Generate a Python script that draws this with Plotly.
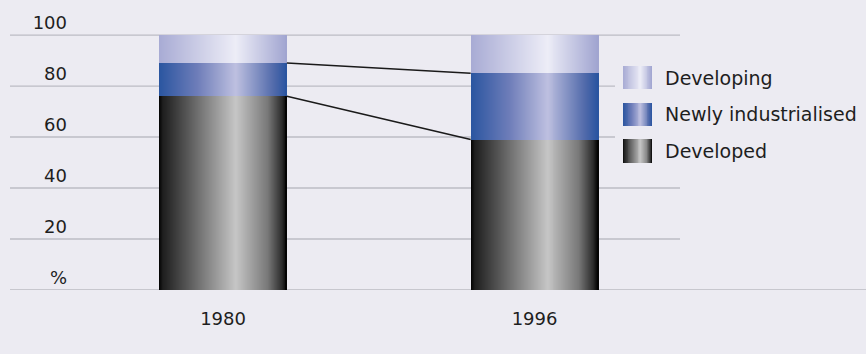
import plotly.graph_objects as go

# ---- data -------------------------------------------------------------
years = ["1980", "1996"]
developed = [76, 59]
newly_industrialised = [13, 26]
developing = [11, 15]
series_names = ["Developing", "Newly industrialised", "Developed"]
y_ticks = [0, 20, 40, 60, 80, 100]
y_tick_text = ["%", "20", "40", "60", "80", "100"]

# ---- styling ----------------------------------------------------------
BG = "#ECEBF2"
GRID = "#BCBCC4"
FONT = "DejaVu Sans"
BAR_W = 0.41
N_SLICES = 128

# horizontal "cylinder" shading stops per series: (position, rgb)
shades = {
    "Developed": [(0.0, (2, 2, 2)), (0.03, (30, 30, 30)), (0.3, (110, 110, 110)),
                  (0.6, (198, 198, 198)), (0.85, (120, 120, 120)),
                  (0.96, (45, 45, 45)), (1.0, (0, 0, 0))],
    "Newly industrialised": [(0.0, (42, 85, 160)), (0.3, (110, 125, 185)),
                             (0.6, (190, 192, 224)), (0.9, (80, 105, 170)),
                             (1.0, (40, 84, 160))],
    "Developing": [(0.0, (168, 171, 212)), (0.6, (237, 237, 247)),
                   (1.0, (160, 164, 208))],
}


def shade(stops, t):
    for (p0, c0), (p1, c1) in zip(stops, stops[1:]):
        if p0 <= t <= p1:
            f = (t - p0) / (p1 - p0) if p1 > p0 else 0
            r, g, b = (round(a + (b_ - a) * f) for a, b_ in zip(c0, c1))
            return f"rgb({r},{g},{b})"
    r, g, b = stops[-1][1]
    return f"rgb({r},{g},{b})"


def slice_geometry(total, n):
    """offsets/widths for vertical strips across a span, overlapping so no seams show."""
    step = total / n
    offs, widths, ts = [], [], []
    for i in range(n):
        o = -total / 2 + i * step
        offs.append(o)
        widths.append(min(step * 3.0, total / 2 - o))
        ts.append((i + 0.5) / n)
    return offs, widths, ts


positions = list(range(len(years)))
bases_dev = [0] * len(years)
bases_ni = [d for d in developed]
bases_dvg = [d + n for d, n in zip(developed, newly_industrialised)]

fig = go.Figure()

stack = [
    ("Developed", developed, bases_dev),
    ("Newly industrialised", newly_industrialised, bases_ni),
    ("Developing", developing, bases_dvg),
]

offs, widths, ts = slice_geometry(BAR_W, N_SLICES)
for name, vals, bases in stack:
    xs, ys, bs, os_, ws, cs = [], [], [], [], [], []
    for p, v, b in zip(positions, vals, bases):
        for o, w, t in zip(offs, widths, ts):
            xs.append(p)
            ys.append(v)
            bs.append(b)
            os_.append(o)
            ws.append(w)
            cs.append(shade(shades[name], t))
    fig.add_trace(go.Bar(
        x=xs, y=ys, base=bs, offset=os_, width=ws,
        marker=dict(color=cs, line=dict(width=0)),
        name=name, showlegend=False, hoverinfo="skip",
    ))

# connector lines between the stack boundaries of the two years
for tops in (bases_ni, bases_dvg):
    fig.add_trace(go.Scatter(
        x=[positions[0] + BAR_W / 2, positions[1] - BAR_W / 2],
        y=[tops[0], tops[1]],
        mode="lines", line=dict(color="#1a1a1a", width=1.5),
        showlegend=False, hoverinfo="skip",
    ))

# ---- legend built on its own small axes with shaded swatches ---------
sw_offs, sw_widths, sw_ts = slice_geometry(1.0, 32)
for row, name in enumerate(series_names):
    fig.add_trace(go.Bar(
        y=[row] * len(sw_offs),
        x=sw_widths,
        base=[o + 0.5 for o in sw_offs],
        orientation="h",
        width=0.63,
        marker=dict(color=[shade(shades[name], t) for t in sw_ts], line=dict(width=0)),
        xaxis="x2", yaxis="y2", showlegend=False, hoverinfo="skip",
    ))

# horizontal guide lines; the ones level with the legend stop short of it
LEGEND_LEFT = (615 - 10) / 670
grid_shapes = []
for v in y_ticks[1:]:
    x_end = LEGEND_LEFT if v in (60, 80) else 1.0
    grid_shapes.append(dict(
        type="line", xref="x domain", yref="y",
        x0=0, x1=x_end, y0=v, y1=v,
        line=dict(color=GRID, width=1.3), layer="below",
    ))
# baseline running across the full width
grid_shapes.append(dict(
    type="line", xref="paper", yref="y",
    x0=0, x1=(866 - 10) / 670, y0=0, y1=0,
    line=dict(color="#BBBBC2", width=1.6), layer="below",
))

fig.update_layout(
    width=866, height=354,
    margin=dict(l=10, r=186, t=33, b=64),
    paper_bgcolor=BG, plot_bgcolor=BG,
    barmode="overlay",
    bargap=0,
    font=dict(family=FONT, size=18, color="#1e1e1e"),
    xaxis=dict(
        domain=[0, 1],
        range=[-0.684, 1.467],
        tickvals=positions, ticktext=years,
        showgrid=False, zeroline=False, showline=False,
        ticks="", ticklabelstandoff=16,
        tickfont=dict(size=18),
    ),
    yaxis=dict(
        range=[0, 100.8],
        tickvals=y_ticks, ticktext=y_tick_text,
        anchor="free", position=(67 - 10) / 670,
        showgrid=False,
        zeroline=False, showline=False, ticks="",
        ticklabelshift=-12,
        tickfont=dict(size=18),
    ),
    xaxis2=dict(
        domain=[(623 - 10) / 670, (652 - 10) / 670],
        range=[0, 1], anchor="y2",
        showgrid=False, zeroline=False, showline=False,
        showticklabels=False, ticks="", fixedrange=True,
    ),
    yaxis2=dict(
        domain=[(290 - 170.75) / 255, (290 - 61.25) / 255],
        range=[2.5, -0.5], anchor="x2", side="right",
        tickvals=list(range(len(series_names))), ticktext=series_names,
        showgrid=False, zeroline=False, showline=False,
        ticks="", ticklabelstandoff=12,
        tickfont=dict(size=19),
    ),
    shapes=grid_shapes,
)

fig.write_html("out.html")
